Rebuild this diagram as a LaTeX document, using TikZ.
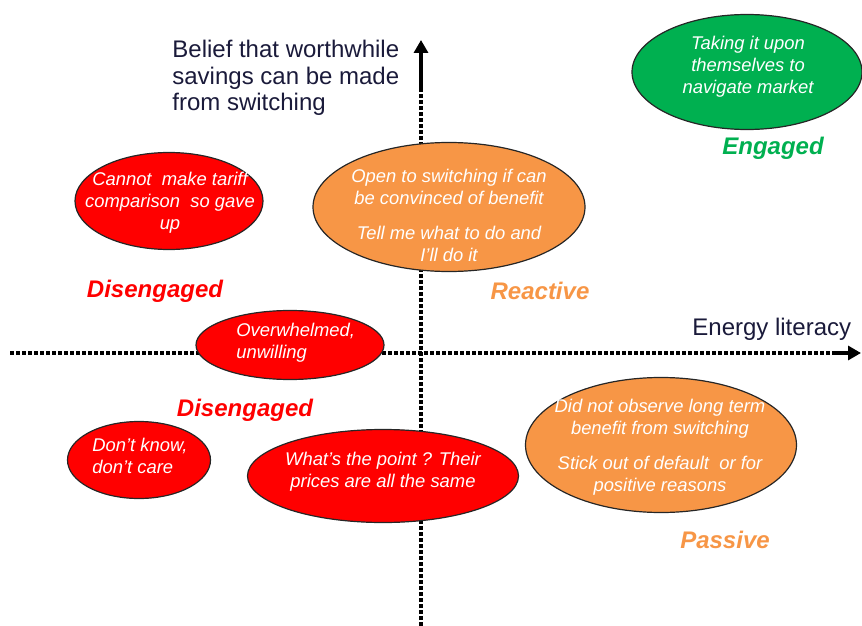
\documentclass[tikz,border=0pt]{standalone}
\usepackage{fontspec}
\setmainfont{Liberation Sans}
\usepackage{xcolor}
\usetikzlibrary{positioning, shapes.geometric, arrows.meta}
\definecolor{segred}{HTML}{FF0000}
\definecolor{segorange}{HTML}{F79646}
\definecolor{seggreen}{HTML}{00B050}
\definecolor{axistext}{HTML}{1A1A3A}
\tikzstyle{cluster} = [ellipse, draw = black!85, line width=0.6pt, inner sep=0pt]
\tikzstyle{redcluster} = [cluster, fill=segred]
\tikzstyle{orangecluster} = [cluster, fill=segorange]
\tikzstyle{greencluster} = [cluster, fill=seggreen]
\tikzstyle{clustertext} = [text=white, inner sep=0pt, align=center, font=\fontsize{9.2}{11}\selectfont\itshape]
\tikzstyle{seglabel} = [inner sep=0pt, font=\fontsize{12}{14}\selectfont\bfseries\itshape]
\tikzstyle{axistitle} = [inner sep=0pt, align=left, text=axistext, font=\fontsize{12}{13.3}\selectfont]
\tikzstyle{axis} = [line width=1.6pt, dash pattern=on 1.8pt off 1.2pt]
\tikzstyle{arrow} = [line width=1.6pt, -{Triangle[width=7pt,length=6.5pt]}]

\begin{document}
\begin{tikzpicture}[x=0.5pt, y=-0.5pt]
		\useasboundingbox (0,0) rectangle (862,626);
		%坐标轴
		\coordinate (ybot) at (421,626);
		\coordinate (ysolid) at (421,90);
		\coordinate (ytip) at (421,40);
		\coordinate (xleft) at (10,353);
		\coordinate (xsolid) at (836,353);
		\coordinate (xtip) at (861,353);
		\draw [axis] (ybot) -- (ysolid);
		\draw [arrow] (ysolid) -- (ytip);
		\draw [axis] (xleft) -- (xsolid);
		\draw [arrow] (xsolid) -- (xtip);
		\node[axistitle, anchor=west](belief) at (172,78){Belief that worthwhile\\savings can be made\\from switching};
		\node[axistitle, anchor=west](literacy) at (692,329){Energy literacy};
		%各群体椭圆
		\node[greencluster, minimum width=115pt, minimum height=57.5pt](engaged) at (747,72){};
		\node[redcluster, minimum width=94pt, minimum height=48.5pt](tariff) at (169,201){};
		\node[orangecluster, minimum width=136pt, minimum height=64.5pt](open) at (449,207){};
		\node[redcluster, minimum width=94pt, minimum height=34.5pt](overwhelmed) at (290,345){};
		\node[redcluster, minimum width=71.5pt, minimum height=38.5pt](dontknow) at (139,460){};
		\node[redcluster, minimum width=135.5pt, minimum height=46.5pt](point) at (383,476){};
		\node[orangecluster, minimum width=135.5pt, minimum height=67.5pt](observe) at (661,445){};
		%椭圆内文字
		\node[clustertext](engagedtext) at (748,67){Taking it upon\\themselves to\\navigate market};
		\node[clustertext](tarifftext) at (170,203){Cannot~ make tariff\\comparison~ so gave\\up};
		\node[clustertext](opentext) at (449,215){Open to switching if can\\be convinced of benefit\\[6.5pt]Tell me what to do and\\I'll do it};
		\node[clustertext, align=left, anchor=west](overwhelmedtext) at (236,343){Overwhelmed,\\unwilling};
		\node[clustertext, align=left, anchor=west](dontknowtext) at (92,456){Don't know,\\don't care};
		\node[clustertext](pointtext) at (383,472){What's the point ? Their\\prices are all the same};
		\node[clustertext](observetext) at (660,447){Did not observe long term\\benefit from switching\\[6.5pt]Stick out of default~ or for\\positive reasons};
		%群体名称
		\node[seglabel, text=seggreen](lengaged) at (773,148){Engaged};
		\node[seglabel, text=segred](ldis1) at (155,291){Disengaged};
		\node[seglabel, text=segorange](lreactive) at (540,291){Reactive};
		\node[seglabel, text=segred](ldis2) at (245,410){Disengaged};
		\node[seglabel, text=segorange](lpassive) at (725,540){Passive};

	\end{tikzpicture}
\end{document}
